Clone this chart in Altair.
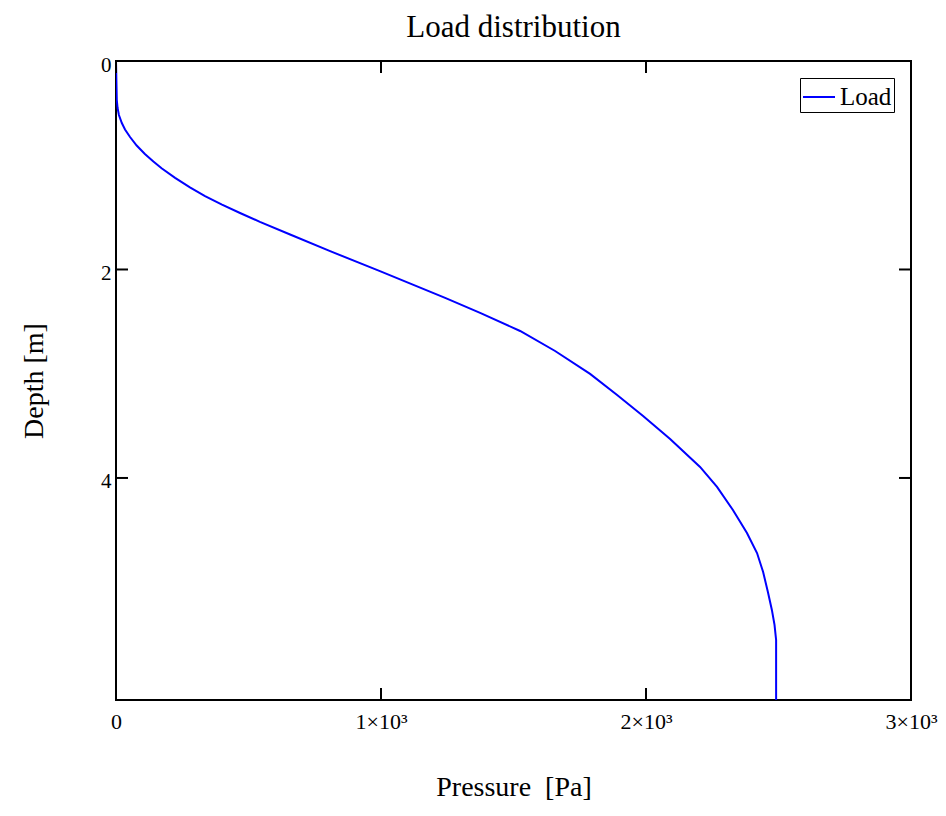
import altair as alt
import pandas as pd

# Values
depth = [0.0, 0.374, 0.451, 0.518, 0.595, 0.657, 0.729, 0.811, 0.892, 0.964, 1.029,
         1.121, 1.213, 1.296, 1.377, 1.458, 1.543, 1.664, 1.824, 2.016, 2.272, 2.416,
         2.590, 2.782, 3.002, 3.204, 3.405, 3.626, 3.894, 4.086, 4.307, 4.528, 4.720,
         4.902, 5.094, 5.266, 5.410, 5.554, 6.13]
pressure = [0, 3, 6, 11, 22, 34, 53, 78, 109, 141, 172,
            223, 279, 336, 400, 468, 543, 657, 808, 996, 1242, 1374,
            1525, 1657, 1789, 1891, 1989, 2091, 2204, 2268, 2328, 2381, 2419,
            2442, 2460, 2475, 2485, 2491, 2491]
series_name = "Load"
x_ticks = [0, 1000, 2000, 3000]
y_ticks = [0, 2, 4]
x_domain = [0, 3000]
y_domain = [0, 6.13]

W, H = 795, 639
FONT = "Liberation Serif"
TICK = 12

df = pd.DataFrame({"pressure": pressure, "depth": depth, "series": series_name})
df["order"] = range(len(df))
tx = pd.DataFrame({"pressure": x_ticks})
ty = pd.DataFrame({"depth": y_ticks})

xscale = alt.Scale(domain=x_domain, nice=False, zero=False)
yscale = alt.Scale(domain=y_domain, reverse=True, nice=False, zero=False)

common_axis = dict(ticks=False, domain=False, grid=False, labelFont=FONT, titleFont=FONT,
                   labelColor="black", titleColor="black", titleFontWeight="normal",
                   labelFlush=False)
x_axis = alt.Axis(values=x_ticks, title="Pressure\u00a0\u00a0[Pa]",
                  labelExpr="datum.value == 0 ? '0' : format(datum.value / 1000, 'd') + '×10³'",
                  labelPadding=11, titlePadding=41, labelFontSize=22, titleFontSize=28,
                  **common_axis)
y_axis = alt.Axis(values=y_ticks, title="Depth [m]",
                  labelPadding=5, labelOffset=4, titlePadding=52, labelFontSize=21,
                  titleFontSize=28, **common_axis)

line = alt.Chart(df).mark_line(strokeWidth=2, clip=True).encode(
    x=alt.X("pressure:Q", scale=xscale, axis=x_axis),
    y=alt.Y("depth:Q", scale=yscale, axis=y_axis),
    color=alt.Color("series:N", scale=alt.Scale(range=["#0000FF"]),
                    legend=alt.Legend(title=None, orient="top-right", offset=17,
                                      symbolType="stroke", symbolSize=1024,
                                      symbolStrokeWidth=2, labelFontSize=25,
                                      labelFont=FONT, labelColor="black",
                                      strokeColor="black",
                                      fillColor="white", padding=2,
                                      labelLimit=200)),
    order="order:Q",
)

tick_style = dict(color="black", strokeWidth=2)
top_ticks = alt.Chart(tx).mark_rule(**tick_style).encode(
    x=alt.X("pressure:Q", scale=xscale, axis=x_axis), y=alt.value(0), y2=alt.value(TICK))
bottom_ticks = alt.Chart(tx).mark_rule(**tick_style).encode(
    x=alt.X("pressure:Q", scale=xscale, axis=x_axis), y=alt.value(H - TICK), y2=alt.value(H))
left_ticks = alt.Chart(ty).mark_rule(**tick_style).encode(
    y=alt.Y("depth:Q", scale=yscale, axis=y_axis), x=alt.value(0), x2=alt.value(TICK))
right_ticks = alt.Chart(ty).mark_rule(**tick_style).encode(
    y=alt.Y("depth:Q", scale=yscale, axis=y_axis), x=alt.value(W - TICK), x2=alt.value(W))

chart = alt.layer(line, top_ticks, bottom_ticks, left_ticks, right_ticks).properties(
    width=W, height=H,
    title=alt.TitleParams("Load distribution", font=FONT, fontSize=31, fontWeight="normal",
                          offset=10, color="black"),
    autosize=alt.AutoSizeParams(type="none"),
    padding={"left": 116, "top": 61, "right": 35, "bottom": 116},
    background="white",
).configure_view(stroke="black", strokeWidth=2)

chart.save("out.html", embed_options={"renderer": "svg", "actions": False})
